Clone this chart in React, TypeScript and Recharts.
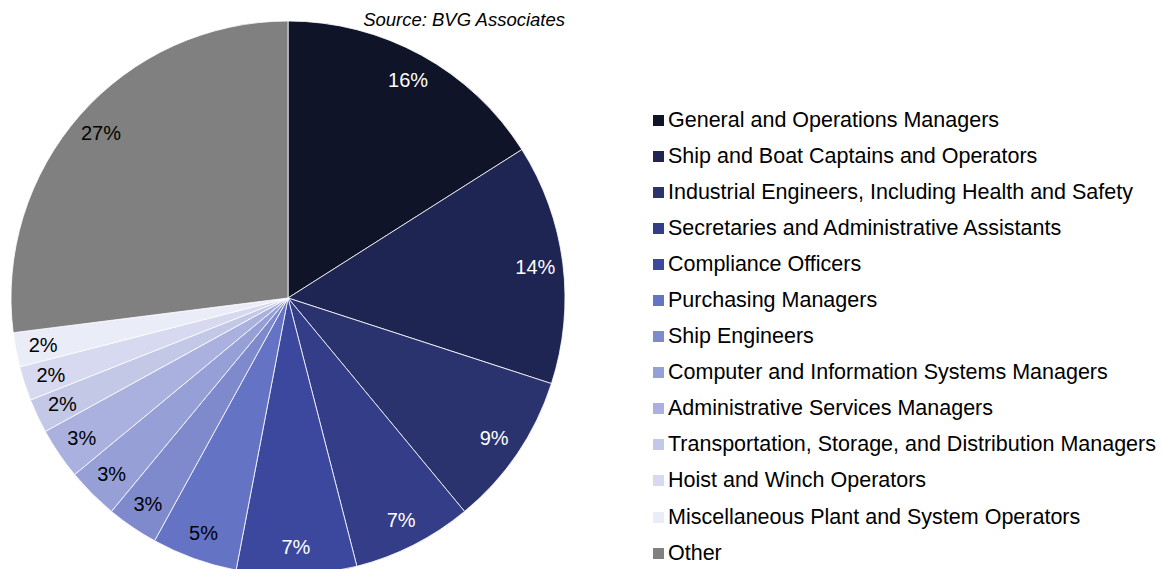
import { Legend, Pie, PieChart } from 'recharts';

const occupations: string[] = [
  'General and Operations Managers',
  'Ship and Boat Captains and Operators',
  'Industrial Engineers, Including Health and Safety',
  'Secretaries and Administrative Assistants',
  'Compliance Officers',
  'Purchasing Managers',
  'Ship Engineers',
  'Computer and Information Systems Managers',
  'Administrative Services Managers',
  'Transportation, Storage, and Distribution Managers',
  'Hoist and Winch Operators',
  'Miscellaneous Plant and System Operators',
  'Other',
];

const shares: number[] = [16, 14, 9, 7, 7, 5, 3, 3, 3, 2, 2, 2, 27];

const sliceColors: string[] = [
  '#0f1429',
  '#1f2552',
  '#2b336f',
  '#333d88',
  '#3c489d',
  '#6573c4',
  '#7f8acd',
  '#97a0d6',
  '#aab1de',
  '#c4c8e7',
  '#d6d9ef',
  '#eaecf7',
  '#808080',
];

const FONT = '"Liberation Sans", Arial, sans-serif';
const RADIAN = Math.PI / 180;

interface SliceLabelProps {
  cx: number;
  cy: number;
  midAngle: number;
  outerRadius: number;
  index: number;
  value: number;
}

function renderSliceLabel({ cx, cy, midAngle, outerRadius, index, value }: SliceLabelProps): JSX.Element {
  const r = outerRadius * 0.9;
  const x = cx + r * Math.cos(-midAngle * RADIAN);
  const y = cy + r * Math.sin(-midAngle * RADIAN);
  return (
    <text
      x={x}
      y={y}
      fill={index < 5 ? '#ffffff' : '#000000'}
      textAnchor="middle"
      dominantBaseline="central"
      fontFamily={FONT}
      fontSize={20}
    >
      {`${value}%`}
    </text>
  );
}

function renderLegend(): JSX.Element {
  return (
    <div style={{ fontFamily: FONT, fontSize: 21.5, color: '#000' }}>
      {occupations.map((name, i) => (
        <div
          key={name}
          style={{ display: 'flex', alignItems: 'center', height: 36.1, whiteSpace: 'nowrap' }}
        >
          <span
            style={{
              display: 'inline-block',
              width: 11,
              height: 11,
              background: sliceColors[i],
              marginRight: 4,
            }}
          />
          <span>{name}</span>
        </div>
      ))}
    </div>
  );
}

export default function App(): JSX.Element {
  const data = occupations.map((name, i) => ({ name, value: shares[i], fill: sliceColors[i] }));
  return (
    <div style={{ position: 'absolute', left: 0, top: 0, width: 1163, height: 569, background: '#fff' }}>
      <PieChart width={1163} height={569} margin={{ top: 0, right: 0, bottom: 0, left: 0 }}>
        <text
          x={565}
          y={19}
          textAnchor="end"
          dominantBaseline="central"
          fontFamily={FONT}
          fontStyle="italic"
          fontSize={18.5}
          fill="#000"
        >
          Source: BVG Associates
        </text>
        <Pie
          data={data}
          dataKey="value"
          nameKey="name"
          cx={288}
          cy={298}
          outerRadius={277}
          startAngle={90}
          endAngle={-270}
          stroke="#ffffff"
          strokeWidth={0.8}
          label={renderSliceLabel}
          labelLine={false}
          isAnimationActive={false}
        />
        <Legend
          content={renderLegend}
          wrapperStyle={{ position: 'absolute', left: 653, top: 102, width: 510 }}
        />
      </PieChart>
    </div>
  );
}
